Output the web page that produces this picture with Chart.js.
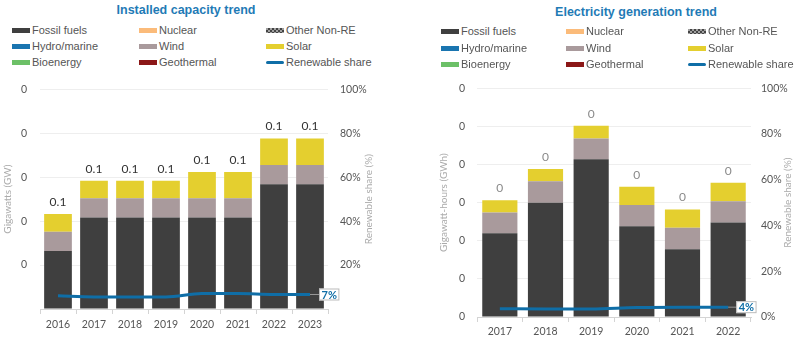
<!DOCTYPE html>
<html>
<head>
<meta charset="utf-8">
<script src="https://cdn.jsdelivr.net/npm/chart.js@4.4.0/dist/chart.umd.min.js"></script>
<style>
  body { margin: 0; background: #fff; width: 798px; height: 340px; overflow: hidden; font-family: 'Liberation Sans', Arial, sans-serif; }
  .panel { position: absolute; top: 0; width: 399px; height: 340px; }
  .title { position: absolute; transform: translateX(-50%); white-space: nowrap; font-weight: bold; font-size: 12.5px; color: #1f7bb6; }
  .item { position: absolute; font-size: 11px; color: #555; white-space: nowrap; line-height: 14px; }
  .swatch { display: inline-block; width: 18px; height: 5px; vertical-align: middle; margin-right: 2px; position: relative; top: -1px; }
  .swatch.line { height: 3px; border-radius: 2px; }
  canvas { position: absolute; left: 0; top: 70px; }
</style>
</head>
<body>
<div class="panel" id="capPanel" style="left:0">
  <div class="title" style="left:186px; top:3px">Installed capacity trend</div>
  <canvas id="capChart" width="399" height="270"></canvas>
</div>
<div class="panel" id="genPanel" style="left:399px">
  <div class="title" style="left:237px; top:5px">Electricity generation trend</div>
  <canvas id="genChart" width="399" height="270"></canvas>
</div>
<script>
// series shared by both charts (stacking order bottom -> top)
const seriesNames = ['Fossil fuels', 'Nuclear', 'Other Non-RE', 'Hydro/marine', 'Wind', 'Solar', 'Bioenergy', 'Geothermal'];
const seriesColors = ['#3f3f3f', '#fbbb7a', '#6a6a6a', '#1a75b0', '#a99a9c', '#e4cf2f', '#6cc067', '#8b1717'];
const shareName = 'Renewable share';
const shareColor = '#0f6ea7';

// installed capacity, GW
const capYears = ['2016', '2017', '2018', '2019', '2020', '2021', '2022', '2023'];
const capFossil = [0.033, 0.052, 0.052, 0.052, 0.052, 0.052, 0.071, 0.071];
const capNuclear = [0, 0, 0, 0, 0, 0, 0, 0];
const capOtherNonRE = [0, 0, 0, 0, 0, 0, 0, 0];
const capHydro = [0, 0, 0, 0, 0, 0, 0, 0];
const capWind = [0.011, 0.011, 0.011, 0.011, 0.011, 0.011, 0.011, 0.011];
const capSolar = [0.010, 0.010, 0.010, 0.010, 0.015, 0.015, 0.015, 0.015];
const capBio = [0, 0, 0, 0, 0, 0, 0, 0];
const capGeo = [0, 0, 0, 0, 0, 0, 0, 0];
const capShare = [6.0, 5.5, 5.5, 5.5, 7.0, 7.0, 6.6, 6.6];

// electricity generation, GWh
const genYears = ['2017', '2018', '2019', '2020', '2021', '2022'];
const genFossil = [0.110, 0.150, 0.207, 0.119, 0.089, 0.124];
const genNuclear = [0, 0, 0, 0, 0, 0];
const genOtherNonRE = [0, 0, 0, 0, 0, 0];
const genHydro = [0, 0, 0, 0, 0, 0];
const genWind = [0.027, 0.028, 0.027, 0.028, 0.028, 0.028];
const genSolar = [0.016, 0.016, 0.017, 0.024, 0.024, 0.024];
const genBio = [0, 0, 0, 0, 0, 0];
const genGeo = [0, 0, 0, 0, 0, 0];
const genShare = [3.6, 3.5, 3.5, 4.2, 4.3, 4.3];

// axis ranges
const capAxisMax = 0.125, capAxisStep = 0.025;
const genAxisMax = 0.3, genAxisStep = 0.05;
const shareAxisMax = 100, shareAxisStep = 20;

const tickFont = { family: 'Lato, sans-serif', size: 10.5 };

// small checkered fill for "Other Non-RE"
function checker() {
  const c = document.createElement('canvas');
  c.width = 4; c.height = 4;
  const g = c.getContext('2d');
  g.fillStyle = '#a0a0a0'; g.fillRect(0, 0, 4, 4);
  g.fillStyle = '#444'; g.fillRect(0, 0, 2, 2); g.fillRect(2, 2, 2, 2);
  return g.createPattern(c, 'repeat');
}

// totals above each stack
const totalsPlugin = {
  id: 'totals',
  afterDatasetsDraw(chart, args, opts) {
    const ctx = chart.ctx;
    const bars = chart.data.datasets.filter(d => d.type === 'bar');
    const meta = chart.getDatasetMeta(0);
    ctx.save();
    ctx.font = '12px Lato, sans-serif';
    ctx.fillStyle = opts.color;
    ctx.textAlign = 'center';
    ctx.textBaseline = 'middle';
    chart.data.labels.forEach((lbl, i) => {
      const total = bars.reduce((s, d) => s + d.data[i], 0);
      const y = chart.scales.y.getPixelForValue(total);
      ctx.fillText(total.toFixed(opts.decimals), meta.data[i].x, y - 12);
    });
    ctx.restore();
  }
};

// boxed value at the end of the share line + right axis title
const shareLabelPlugin = {
  id: 'shareLabel',
  afterDatasetsDraw(chart, args, opts) {
    const ctx = chart.ctx;
    const idx = chart.data.datasets.findIndex(d => d.type === 'line');
    const pts = chart.getDatasetMeta(idx).data;
    const last = pts[pts.length - 1];
    const vals = chart.data.datasets[idx].data;
    const text = Math.round(vals[vals.length - 1]) + '%';
    ctx.save();
    ctx.font = 'bold 11px Lato, sans-serif';
    const w = ctx.measureText(text).width + 5;
    const bx = last.x + opts.gap, by = last.y - 6;
    ctx.strokeStyle = '#999';
    ctx.lineWidth = 1;
    ctx.beginPath();
    ctx.moveTo(last.x, last.y);
    ctx.lineTo(bx, last.y);
    ctx.stroke();
    ctx.fillStyle = '#fff';
    ctx.fillRect(bx, by, w, 12);
    ctx.strokeStyle = '#bbb';
    ctx.strokeRect(bx + 0.5, by + 0.5, w - 1, 11);
    ctx.fillStyle = shareColor;
    ctx.textAlign = 'left';
    ctx.textBaseline = 'middle';
    ctx.fillText(text, bx + 2.5, last.y + 0.5);

    // right axis title, reading bottom to top
    const area = chart.chartArea;
    ctx.translate(opts.titleX, (area.top + area.bottom) / 2);
    ctx.rotate(-Math.PI / 2);
    ctx.font = '10px Lato, sans-serif';
    ctx.fillStyle = '#ababab';
    ctx.textAlign = 'center';
    ctx.textBaseline = 'middle';
    ctx.fillText('Renewable share (%)', 0, 0);
    ctx.restore();
  }
};

function makeChart(id, s) {
  const datasets = seriesNames.map((name, i) => ({
    type: 'bar',
    label: name,
    data: s.series[i],
    backgroundColor: i === 2 ? checker() : seriesColors[i],
    borderWidth: 0,
    yAxisID: 'y',
    order: 1,
    barPercentage: 0.77,
    categoryPercentage: 1
  }));
  datasets.push({
    type: 'line',
    label: shareName,
    data: s.share,
    yAxisID: 'y1',
    borderColor: shareColor,
    borderWidth: 3,
    pointRadius: 0,
    cubicInterpolationMode: 'monotone',
    order: 0
  });

  return new Chart(document.getElementById(id), {
    data: { labels: s.labels, datasets: datasets },
    plugins: [totalsPlugin, shareLabelPlugin],
    options: {
      responsive: false,
      animation: false,
      layout: { padding: { top: 15 } },
      plugins: {
        legend: { display: false },
        tooltip: { enabled: false },
        totals: { color: s.totalColor, decimals: s.decimals },
        shareLabel: { gap: s.labelGap, titleX: s.rightTitleX }
      },
      scales: {
        x: {
          stacked: true,
          grid: { drawOnChartArea: false, drawTicks: true, tickLength: 5, color: '#d4d4d4', offset: true },
          border: { color: '#d4d4d4' },
          ticks: { color: '#555', font: tickFont, padding: s.xPad },
          afterFit: sc => { sc.height = s.xHeight; }
        },
        y: {
          stacked: true,
          min: 0,
          max: s.yMax,
          grid: { color: '#eeeeee', drawTicks: false },
          border: { display: false },
          ticks: {
            stepSize: s.yStep,
            color: '#555',
            font: tickFont,
            padding: s.yPad,
            callback: v => (s.hideZero && v === 0) ? '' : v.toFixed(0)
          },
          title: {
            display: true,
            text: s.yTitle,
            color: '#ababab',
            font: { family: 'Lato, sans-serif', size: 10 },
            padding: { top: s.yTitlePad, bottom: 0 }
          },
          afterFit: sc => { sc.width = s.yWidth; }
        },
        y1: {
          position: 'right',
          min: 0,
          max: shareAxisMax,
          grid: { display: false, drawTicks: false },
          border: { display: false },
          ticks: {
            stepSize: shareAxisStep,
            color: '#555',
            font: tickFont,
            padding: s.y1Pad,
            callback: v => (s.hideZero && v === 0) ? '' : v + '%'
          },
          afterFit: sc => { sc.width = s.y1Width; }
        }
      }
    }
  });
}

// HTML legend, three columns
function makeLegend(panelId, chart, cols, rows) {
  const panel = document.getElementById(panelId);
  chart.data.datasets.forEach((d, i) => {
    const item = document.createElement('div');
    item.className = 'item';
    item.style.left = cols[i % 3] + 'px';
    item.style.top = (rows[Math.floor(i / 3)] - 7) + 'px';
    const sw = document.createElement('span');
    sw.className = 'swatch';
    if (d.type === 'line') {
      sw.className += ' line';
      sw.style.background = d.borderColor;
    } else if (d.label === 'Other Non-RE') {
      sw.style.background = 'repeating-conic-gradient(#444 0 25%, #a0a0a0 0 50%) 0 0 / 4px 4px';
    } else {
      sw.style.background = d.backgroundColor;
    }
    item.appendChild(sw);
    item.appendChild(document.createTextNode(d.label));
    panel.appendChild(item);
  });
}

const capChart = makeChart('capChart', {
  labels: capYears,
  series: [capFossil, capNuclear, capOtherNonRE, capHydro, capWind, capSolar, capBio, capGeo],
  share: capShare,
  yMax: capAxisMax, yStep: capAxisStep,
  yTitle: 'Gigawatts (GW)',
  hideZero: true,
  totalColor: '#333', decimals: 1,
  yWidth: 40, y1Width: 71, xHeight: 31,
  yPad: 13, y1Pad: 12, xPad: 4, yTitlePad: 2,
  labelGap: 9, rightTitleX: 369
});

const genChart = makeChart('genChart', {
  labels: genYears,
  series: [genFossil, genNuclear, genOtherNonRE, genHydro, genWind, genSolar, genBio, genGeo],
  share: genShare,
  yMax: genAxisMax, yStep: genAxisStep,
  yTitle: 'Gigawatt-hours (GWh)',
  hideZero: false,
  totalColor: '#8a8a8a', decimals: 0,
  yWidth: 78, y1Width: 47, xHeight: 23,
  yPad: 12, y1Pad: 10, xPad: 3, yTitlePad: 39,
  labelGap: 8, rightTitleX: 389
});

makeLegend('capPanel', capChart, [12, 139, 266], [30, 46, 62]);
makeLegend('genPanel', genChart, [42, 167, 289], [31, 48, 64]);
</script>
</body>
</html>
